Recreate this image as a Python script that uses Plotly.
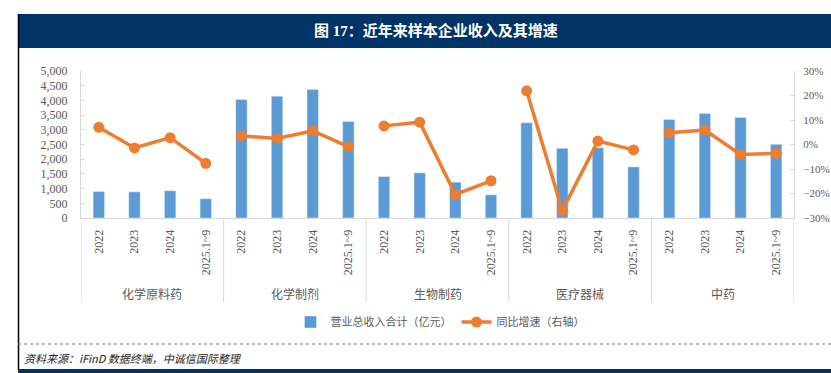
import plotly.graph_objects as go

# ---------------- data ----------------
groups = ["化学原料药", "化学制剂", "生物制药", "医疗器械", "中药"]
periods = ["2022", "2023", "2024", "2025.1~9"]
revenue = {
    "化学原料药": [900, 890, 925, 654],
    "化学制剂": [4030, 4143, 4370, 3285],
    "生物制药": [1409, 1535, 1219, 789],
    "医疗器械": [3239, 2371, 2392, 1738],
    "中药": [3354, 3557, 3421, 2507],
}
growth = {
    "化学原料药": [0.070, -0.014, 0.028, -0.077],
    "化学制剂": [0.035, 0.025, 0.056, -0.009],
    "生物制药": [0.076, 0.091, -0.204, -0.148],
    "医疗器械": [0.219, -0.269, 0.014, -0.022],
    "中药": [0.048, 0.059, -0.041, -0.036],
}
bar_name = "营业总收入合计（亿元）"
line_name = "同比增速（右轴）"
title_text = "图 17：近年来样本企业收入及其增速"
source_text = "资料来源：iFinD 数据终端，中诚信国际整理"

# ---------------- layout helpers ----------------
W, H = 831, 373
L, R, T, B = 81, 37, 71, 155
pw, ph = W - L - R, H - T - B


def px(xp):
    return (xp - L) / pw


def py(yp):
    return (H - B - yp) / ph


NAVY = "#003466"
BLUE = "#5B9BD5"
ORANGE = "#ED7D31"
GREY_TXT = "#595959"
AX = "#D9D9D9"
NUMFONT = "Liberation Serif, Noto Sans CJK SC"
CJK = "Noto Sans CJK SC"

n_per = len(periods)
bx, by, tick_text = [], [], []
lx, ly = [], []
for gi, g in enumerate(groups):
    for pi, p in enumerate(periods):
        idx = gi * n_per + pi
        bx.append(idx)
        by.append(revenue[g][pi])
        tick_text.append(p)
        lx.append(idx)
        ly.append(growth[g][pi])
    lx.append(None)
    ly.append(None)

fig = go.Figure()
fig.add_trace(go.Bar(x=bx, y=by, name=bar_name, marker_color=BLUE, width=0.32,
                     yaxis="y"))
fig.add_trace(go.Scatter(x=lx, y=ly, name=line_name, mode="lines+markers",
                         line=dict(color=ORANGE, width=3.5),
                         marker=dict(color=ORANGE, size=11),
                         yaxis="y2", connectgaps=False))

n_tot = len(bx)
shapes = []
annotations = []

# group dividers and labels
for gi, g in enumerate(groups):
    x0 = gi * n_per - 0.5
    shapes.append(dict(type="line", xref="x", yref="paper", x0=x0, x1=x0,
                       y0=0, y1=py(302), line=dict(color=AX, width=1)))
    annotations.append(dict(text=g, xref="x", yref="paper",
                            x=gi * n_per + (n_per - 1) / 2, y=py(293),
                            showarrow=False, xanchor="center", yanchor="middle",
                            font=dict(family=CJK, size=12, color=GREY_TXT)))
shapes.append(dict(type="line", xref="x", yref="paper", x0=n_tot - 0.5,
                   x1=n_tot - 0.5, y0=0, y1=py(302),
                   line=dict(color=AX, width=1)))

# frame: title bar, left border, dotted separator, bottom band
shapes.append(dict(type="rect", xref="paper", yref="paper", x0=px(18), x1=px(831),
                   y0=py(48), y1=py(14), fillcolor=NAVY, line=dict(width=0),
                   layer="below"))
shapes.append(dict(type="line", xref="paper", yref="paper", x0=px(18.5), x1=px(18.5),
                   y0=py(370), y1=py(14), line=dict(color="#000000", width=1.5)))
shapes.append(dict(type="line", xref="paper", yref="paper", x0=px(18), x1=px(831),
                   y0=py(344), y1=py(344), line=dict(color="#777777", width=1, dash="dot")))
shapes.append(dict(type="rect", xref="paper", yref="paper", x0=px(18), x1=px(831),
                   y0=py(373), y1=py(369), fillcolor=NAVY, line=dict(width=0)))

annotations.append(dict(text="<b>" + title_text + "</b>", xref="paper", yref="paper",
                        x=px(436), y=py(31), showarrow=False, xanchor="center",
                        yanchor="middle",
                        font=dict(family=NUMFONT, size=15, color="#FFFFFF")))
annotations.append(dict(text="<i>" + source_text + "</i>", xref="paper", yref="paper",
                        x=px(22), y=py(358), showarrow=False, xanchor="left",
                        yanchor="middle",
                        font=dict(family=CJK, size=11, color="#222222")))

fig.update_layout(
    width=W, height=H,
    margin=dict(l=L, r=R, t=T, b=B, pad=0, autoexpand=False),
    paper_bgcolor="#FFFFFF", plot_bgcolor="#FFFFFF",
    showlegend=True,
    legend=dict(orientation="h", x=px(440), y=py(322), xanchor="center",
                yanchor="middle", font=dict(family=CJK, size=11, color=GREY_TXT),
                itemwidth=30, traceorder="normal", bgcolor="rgba(0,0,0,0)"),
    xaxis=dict(range=[-0.5, n_tot - 0.5], tickmode="array", tickvals=bx,
               ticktext=tick_text, tickangle=-90, showgrid=False, zeroline=False,
               showline=True, linecolor=AX, linewidth=1, ticks="",
               ticklabelstandoff=6, automargin=False,
               tickfont=dict(family=NUMFONT, size=12, color=GREY_TXT)),
    yaxis=dict(range=[0, 5000], dtick=500, tickformat=",", showgrid=False,
               zeroline=False, showline=True, linecolor=AX, ticks="inside",
               ticklen=4, tickcolor=AX, ticklabelstandoff=10, automargin=False,
               tickfont=dict(family=NUMFONT, size=12, color=GREY_TXT)),
    yaxis2=dict(range=[-0.3, 0.3], dtick=0.1, tickformat=".0%", overlaying="y",
                side="right", showgrid=False, zeroline=False, showline=True,
                linecolor=AX, ticks="inside", ticklen=4, tickcolor=AX,
                ticklabelstandoff=6, automargin=False,
                tickfont=dict(family=NUMFONT, size=11, color=GREY_TXT)),
    shapes=shapes,
    annotations=annotations,
    bargap=0.6,
)

fig.write_html("out.html", config={"displayModeBar": False},
               post_script="document.body.style.margin='0';document.body.style.overflow='hidden';")
